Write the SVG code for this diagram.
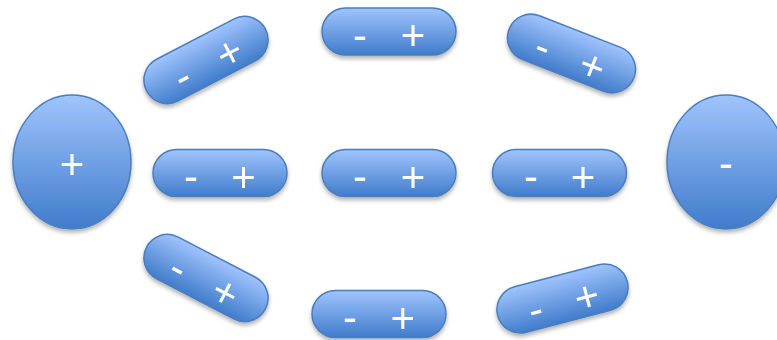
<svg xmlns="http://www.w3.org/2000/svg" width="777" height="340" viewBox="0 0 777 340">
<defs>
<linearGradient id="g" x1="0" y1="0" x2="0" y2="1">
<stop offset="0" stop-color="#A0C4FD"/>
<stop offset="1" stop-color="#407CCB"/>
</linearGradient>
<filter id="sh" x="-20%" y="-20%" width="140%" height="150%">
<feDropShadow dx="0" dy="3" stdDeviation="2" flood-color="#000" flood-opacity="0.3"/>
</filter>
<rect id="pill" x="-67" y="-23.5" width="134" height="47" rx="23.5" ry="23.5"/>
</defs>
<style>
.s{fill:url(#g);stroke:#4A7EBE;stroke-width:1.5}
.t{fill:#fff;font-family:"Liberation Sans",Arial,sans-serif;font-size:42px;text-anchor:middle}
</style>
<g id="anode" filter="url(#sh)">
<ellipse class="s" cx="72" cy="162" rx="59" ry="67"/>
<text class="t" x="72" y="179">+</text>
</g>
<g id="cathode" filter="url(#sh)">
<ellipse class="s" cx="726" cy="162" rx="59" ry="67"/>
<text class="t" x="726" y="178">-</text>
</g>
<g id="d1" filter="url(#sh)"><g transform="translate(206 60) rotate(-27.5)">
<use href="#pill" class="s"/><text class="t" x="-29" y="18">-</text><text class="t" x="24" y="18.5">+</text></g></g>
<g id="d2" filter="url(#sh)"><g transform="translate(220 173)">
<use href="#pill" class="s"/><text class="t" x="-29" y="18">-</text><text class="t" x="23.5" y="18.5">+</text></g></g>
<g id="d3" filter="url(#sh)"><g transform="translate(206 278) rotate(27.5)">
<use href="#pill" class="s"/><text class="t" x="-29" y="18">-</text><text class="t" x="24" y="18.5">+</text></g></g>
<g id="d4" filter="url(#sh)"><g transform="translate(389 31.5)">
<use href="#pill" class="s"/><text class="t" x="-29" y="18">-</text><text class="t" x="24" y="18.5">+</text></g></g>
<g id="d5" filter="url(#sh)"><g transform="translate(389 173)">
<use href="#pill" class="s"/><text class="t" x="-29" y="18">-</text><text class="t" x="24" y="18.5">+</text></g></g>
<g id="d6" filter="url(#sh)"><g transform="translate(379 314)">
<use href="#pill" class="s"/><text class="t" x="-29" y="18">-</text><text class="t" x="23.7" y="18.5">+</text></g></g>
<g id="d7" filter="url(#sh)"><g transform="translate(571.5 53.5) rotate(21.3)">
<use href="#pill" class="s"/><text class="t" x="-29" y="18">-</text><text class="t" x="24" y="18.5">+</text></g></g>
<g id="d8" filter="url(#sh)"><g transform="translate(559.5 173)">
<use href="#pill" class="s"/><text class="t" x="-28.5" y="18">-</text><text class="t" x="23.5" y="18.5">+</text></g></g>
<g id="d9" filter="url(#sh)"><g transform="translate(562.5 298.5) rotate(-14.7)">
<use href="#pill" class="s"/><text class="t" x="-29" y="18">-</text><text class="t" x="24" y="18.5">+</text></g></g>
<g id="connectors"/>
</svg>
